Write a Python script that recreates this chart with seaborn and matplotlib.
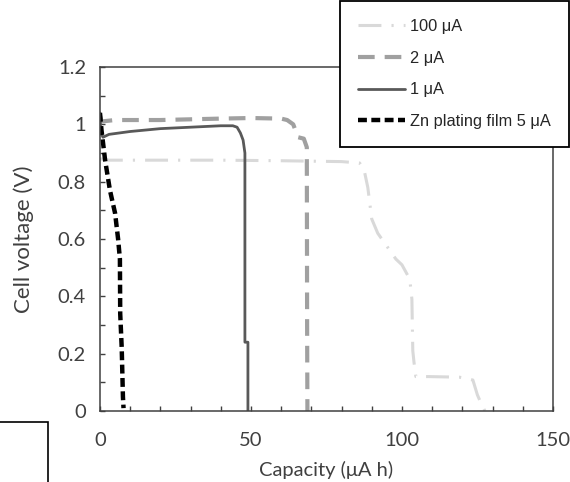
import matplotlib
matplotlib.use("Agg")
import matplotlib.pyplot as plt
from matplotlib.ticker import MultipleLocator, FuncFormatter
from matplotlib.patches import Rectangle
import seaborn as sns

sns.set_style("ticks")
plt.rcParams['font.family'] = ['Lato', 'DejaVu Sans']

# data
cap_100uA = [0, 3, 10, 20, 40, 60, 80, 86, 87.5, 88.7, 90, 92, 96, 98, 100,
             102.6, 103.3, 103.6, 104, 104.6, 109, 119, 123.5, 125, 126.5, 127.5]
v_100uA = [0.88, 0.875, 0.875, 0.875, 0.875, 0.873, 0.87, 0.865, 0.84, 0.78, 0.67,
           0.62, 0.56, 0.53, 0.51, 0.46, 0.39, 0.21, 0.17, 0.12, 0.12, 0.118,
           0.108, 0.056, 0.02, 0.0]

cap_2uA = [0, 0.5, 5, 20, 40, 50, 60, 62, 64, 65.6, 67.5, 68.5, 68.6, 68.7]
v_2uA = [1.03, 1.01, 1.015, 1.015, 1.02, 1.022, 1.02, 1.015, 1.0, 0.955, 0.95, 0.92, 0.3, 0.0]

cap_1uA = [0, 0.3, 1, 3, 10, 20, 30, 40, 44, 45.4, 46.5, 47.4, 48, 48, 49, 49]
v_1uA = [1.04, 0.97, 0.955, 0.965, 0.975, 0.985, 0.99, 0.995, 0.995, 0.99, 0.97, 0.945,
         0.9, 0.24, 0.24, 0.0]

cap_zn = [0, 0.5, 1.7, 3.3, 5, 6, 6.6, 6.7, 7.2, 7.6, 7.8]
v_zn = [1.04, 0.98, 0.875, 0.77, 0.69, 0.6, 0.53, 0.34, 0.22, 0.05, 0.01]

labels = ["100 μA", "2 μA", "1 μA", "Zn plating film 5 μA"]

fig = plt.figure(figsize=(5.7, 4.82), dpi=100)
ax = fig.add_axes([0.1754, 0.1473, 0.7946, 0.7137])

series = [
    (cap_100uA, v_100uA, "#d9d9d9", 2.2, (7.5, 3.3, 0.7, 3.3)),
    (cap_2uA, v_2uA, "#a0a0a0", 3.0, (4, 2.4)),
    (cap_1uA, v_1uA, "#595959", 2.0, None),
    (cap_zn, v_zn, "black", 3.2, (2, 1)),
]
for (xs, ys, col, lw, dash), lab in zip(series, labels):
    sns.lineplot(x=xs, y=ys, ax=ax, color=col, lw=lw, sort=False,
                 estimator=None, label=lab)
    if dash is not None:
        ax.lines[-1].set_dashes(dash)

ax.set_xlim(0, 150)
ax.set_ylim(0, 1.2)
ax.xaxis.set_major_locator(MultipleLocator(50))
ax.xaxis.set_minor_locator(MultipleLocator(10))
ax.yaxis.set_major_locator(MultipleLocator(0.2))
ax.yaxis.set_minor_locator(MultipleLocator(0.1))
ax.yaxis.set_major_formatter(FuncFormatter(lambda v, p: "%g" % round(v, 2)))

for s in ax.spines.values():
    s.set_visible(True)
    s.set_color("#404040")
    s.set_linewidth(1.1)

ax.tick_params(which="both", direction="in", color="#404040", width=1, length=3.5,
               labelsize=14.5, labelcolor="#404040")
ax.tick_params(axis="x", which="both", pad=15)
ax.tick_params(axis="y", which="both", pad=10)

ax.set_xlabel("Capacity (μA h)", fontsize=14.5, color="#404040", labelpad=9)
ax.set_ylabel("Cell voltage (V)", fontsize=16, color="#404040", labelpad=17)

leg = ax.legend(loc="upper right", bbox_to_anchor=(0.998, 0.998),
                bbox_transform=fig.transFigure, frameon=True, fancybox=False,
                framealpha=1, edgecolor="black", handlelength=2.9,
                labelspacing=1.02, borderpad=1.1, handletextpad=0.3,
                borderaxespad=0,
                prop={"family": ["Liberation Sans", "DejaVu Sans"], "size": 11.8})
leg.get_frame().set_linewidth(1.3)
leg.set_zorder(10)

# stray frame fragment in the lower-left corner of the original
fig.add_artist(Rectangle((-0.02, -0.02), 48 / 570 + 0.02, 0.1245 + 0.02,
                         transform=fig.transFigure, fill=False,
                         edgecolor="black", lw=1.2))

fig.savefig("out.png", dpi=100)
